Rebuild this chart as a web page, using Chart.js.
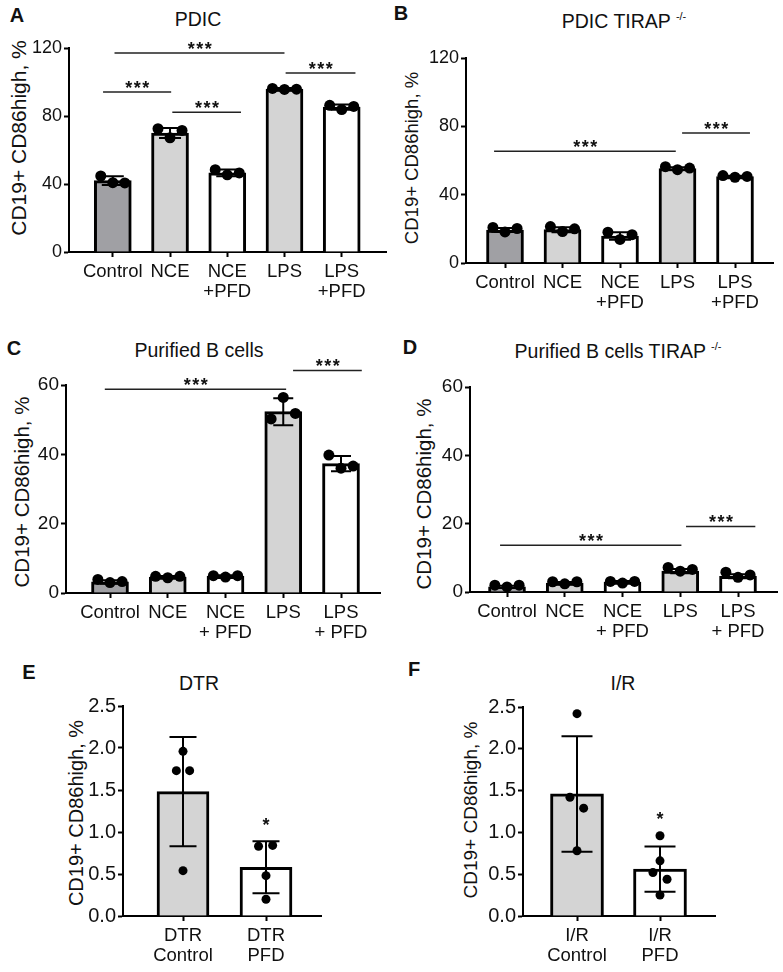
<!DOCTYPE html>
<html>
<head>
<meta charset="utf-8">
<script src="https://cdn.jsdelivr.net/npm/chart.js@4.4.1/dist/chart.umd.min.js"></script>
<style>
html, body { margin: 0; padding: 0; background: #fff; }
body { width: 783px; height: 972px; position: relative; overflow: hidden;
       font-family: "Liberation Sans", Arial, sans-serif; color: #111; }
.pane { position: absolute; }
.lbl { position: absolute; transform: translate(-50%, -50%); white-space: nowrap; line-height: 1; }
.ytitle { position: absolute; transform: translate(-50%, -50%) rotate(-90deg); white-space: nowrap; line-height: 1; }
.title { font-size: 19.5px; }
.letter { font-size: 20px; font-weight: bold; }
.sup { font-size: 11px; position: relative; top: -8px; }
</style>
</head>
<body>

<div class="lbl letter" style="left:17px;top:15px">A</div>
<div class="lbl letter" style="left:401px;top:13px">B</div>
<div class="lbl letter" style="left:14px;top:348px">C</div>
<div class="lbl letter" style="left:410px;top:347px">D</div>
<div class="lbl letter" style="left:29px;top:672px">E</div>
<div class="lbl letter" style="left:414px;top:669px">F</div>

<div class="lbl title" style="left:198px;top:20px">PDIC</div>
<div class="lbl title" style="left:624px;top:22px">PDIC TIRAP <span class="sup">-/-</span></div>
<div class="lbl title" style="left:199px;top:351px">Purified B cells</div>
<div class="lbl title" style="left:618px;top:352px">Purified B cells TIRAP <span class="sup">-/-</span></div>
<div class="lbl title" style="left:199px;top:684px">DTR</div>
<div class="lbl title" style="left:623px;top:684px">I/R</div>

<div class="ytitle" style="left:18px;top:138px;font-size:21px">CD19+ CD86high, %</div>
<div class="ytitle" style="left:412px;top:158px;font-size:18.5px">CD19+ CD86high, %</div>
<div class="ytitle" style="left:22px;top:492px;font-size:20.5px">CD19+ CD86high, %</div>
<div class="ytitle" style="left:424px;top:494px;font-size:20.5px">CD19+ CD86high, %</div>
<div class="ytitle" style="left:76px;top:813px;font-size:20px">CD19+ CD86high, %</div>
<div class="ytitle" style="left:470px;top:810px;font-size:19px">CD19+ CD86high, %</div>

<script>
const FONT = '"Liberation Sans", Arial, sans-serif';
Chart.defaults.font.family = FONT;
Chart.defaults.color = '#111';

// x labels
const labelsAB = ['Control', 'NCE', ['NCE', '+PFD'], 'LPS', ['LPS', '+PFD']];
const labelsCD = ['Control', 'NCE', ['NCE', '+ PFD'], 'LPS', ['LPS', '+ PFD']];
const labelsE = [['DTR', 'Control'], ['DTR', 'PFD']];
const labelsF = [['I/R', 'Control'], ['I/R', 'PFD']];

// A - PDIC
const meanA = [42, 70, 46.6, 95.8, 85.2];
const sdA = [2.6, 2.9, 2.0, 0.7, 1.5];
const ptsA = [[44.7, 40.8, 40.6], [72.5, 67.2, 71.5], [48.4, 45.4, 46.5], [96.2, 95.6, 95.8], [86.3, 83.8, 85.6]];
const sigA = [[0.03, 3.0, 117], [-0.17, 1.02, 94.1], [1.04, 2.24, 82.2], [3.02, 4.24, 105.3]];

// B - PDIC TIRAP -/-
const meanB = [19.3, 19.5, 15.8, 55.3, 50.6];
const sdB = [1.2, 1.5, 2.2, 0.8, 0.5];
const ptsB = [[20.8, 18.2, 20.2], [21.3, 18.4, 20.0], [18.0, 13.8, 16.6], [56.4, 54.6, 55.6], [51.2, 50.2, 50.7]];
const sigB = [[-0.19, 2.97, 65.4], [3.08, 4.26, 76.1]];

// C - Purified B cells
const meanC = [3.2, 4.6, 4.8, 52.3, 37.3];
const sdC = [0.5, 0.3, 0.3, 3.9, 2.2];
const ptsC = [[3.9, 3.0, 3.3], [4.8, 4.4, 4.8], [5.0, 4.6, 5.0], [50.2, 56.4, 51.8], [39.8, 36.0, 36.6]];
const sigC = [[-0.09, 3.05, 58.8], [3.17, 4.36, 64.2]];

// D - Purified B cells TIRAP -/-
const meanD = [1.5, 2.6, 2.9, 6.1, 4.6];
const sdD = [0.3, 0.3, 0.3, 0.6, 0.6];
const ptsD = [[2.0, 1.5, 2.0], [3.0, 2.4, 3.0], [3.1, 2.6, 3.1], [7.2, 6.1, 6.6], [5.8, 4.3, 5.0]];
const sigD = [[-0.12, 3.02, 13.7], [3.1, 4.3, 19.2]];

// E - DTR
const meanE = [1.48, 0.58];
const sdE = [0.65, 0.31];
const ptsE = [[1.96, 1.73, 1.73, 0.54], [0.83, 0.84, 0.48, 0.2]];
const starE = [1, 1.14];

// F - I/R
const meanF = [1.46, 0.56];
const sdF = [0.69, 0.27];
const ptsF = [[2.42, 1.42, 1.29, 0.78], [0.96, 0.66, 0.52, 0.44, 0.25]];
const starF = [1, 1.21];

const DARK = '#a0a0a4', LIGHT = '#d4d4d4', WHITE = '#ffffff';
const colors5 = [DARK, LIGHT, WHITE, LIGHT, WHITE];
const colors2 = [LIGHT, WHITE];
const JIT3 = [-0.21, 0, 0.21];

const panels = [
    { box: [0, 28, 392, 282], axisX: 69, top: 48, bottom: 252, right: 388, cat0: 113, step: 57.5,
      ymax: 120, ystep: 40, tickSize: 18, labels: labelsAB, mean: meanA, sd: sdA, pts: ptsA, sig: sigA,
      colors: colors5, barW: 37, cap: 11, r: 5.5 },
    { box: [392, 28, 391, 282], axisX: 466, top: 58, bottom: 263, right: 773, cat0: 505, step: 57.5,
      ymax: 120, ystep: 40, tickSize: 18, labels: labelsAB, mean: meanB, sd: sdB, pts: ptsB, sig: sigB,
      colors: colors5, barW: 37, cap: 11, r: 5.5 },
    { box: [0, 330, 392, 315], axisX: 66, top: 385, bottom: 593, right: 380, cat0: 110, step: 57.75,
      ymax: 60, ystep: 20, tickSize: 19, labels: labelsCD, mean: meanC, sd: sdC, pts: ptsC, sig: sigC,
      colors: colors5, barW: 37, cap: 10, r: 5.5 },
    { box: [392, 330, 391, 315], axisX: 470, top: 387, bottom: 592, right: 777, cat0: 507, step: 57.75,
      ymax: 60, ystep: 20, tickSize: 19, labels: labelsCD, mean: meanD, sd: sdD, pts: ptsD, sig: sigD,
      colors: colors5, barW: 37, cap: 10, r: 5.5 },
    { box: [0, 690, 392, 282], axisX: 123, top: 706, bottom: 916, right: 321, cat0: 183, step: 83,
      ymax: 2.5, ystep: 0.5, dec: true, tickSize: 20, labels: labelsE, mean: meanE, sd: sdE, pts: ptsE,
      star: starE, colors: colors2, barW: 52, cap: 13.5, r: 4.5,
      jitter: [[0, -0.08, 0.08, 0], [-0.09, 0.08, 0, 0]] },
    { box: [392, 690, 391, 282], axisX: 523, top: 707, bottom: 916, right: 715, cat0: 577, step: 83,
      ymax: 2.5, ystep: 0.5, dec: true, tickSize: 20, labels: labelsF, mean: meanF, sd: sdF, pts: ptsF,
      star: starF, colors: colors2, barW: 53, cap: 15.5, r: 4.5,
      jitter: [[0, -0.085, 0.08, 0], [0, 0, -0.085, 0.085, 0]] }
];

function drawPanel(p) {
    const [bx, by, bw, bh] = p.box;
    const wrap = document.createElement('div');
    wrap.className = 'pane';
    wrap.style.left = bx + 'px';
    wrap.style.top = by + 'px';
    wrap.style.width = bw + 'px';
    wrap.style.height = bh + 'px';
    const cv = document.createElement('canvas');
    cv.width = bw;
    cv.height = bh;
    wrap.appendChild(cv);
    document.body.appendChild(wrap);

    const barData = p.mean.map((v, i) => ({ x: i, y: v }));
    const dotData = [];
    p.pts.forEach((arr, i) => {
        const jit = p.jitter ? p.jitter[i] : JIT3;
        arr.forEach((v, j) => dotData.push({ x: i + jit[j], y: v }));
    });

    // error bars, drawn right after the bars
    const errPlugin = {
        id: 'errbars',
        afterDatasetDraw(chart, args) {
            if (args.meta.type !== 'bar') return;
            const ctx = chart.ctx;
            const xs = chart.scales.x, ys = chart.scales.y;
            ctx.save();
            ctx.strokeStyle = '#000';
            ctx.lineWidth = 2;
            p.mean.forEach((m, i) => {
                const x = xs.getPixelForValue(i);
                const y1 = ys.getPixelForValue(m + p.sd[i]);
                const y2 = ys.getPixelForValue(m - p.sd[i]);
                ctx.beginPath();
                ctx.moveTo(x, y1); ctx.lineTo(x, y2);
                ctx.moveTo(x - p.cap, y1); ctx.lineTo(x + p.cap, y1);
                ctx.moveTo(x - p.cap, y2); ctx.lineTo(x + p.cap, y2);
                ctx.stroke();
            });
            ctx.restore();
        }
    };

    // significance brackets and stars
    const sigPlugin = {
        id: 'sig',
        afterDraw(chart) {
            const ctx = chart.ctx;
            const xs = chart.scales.x, ys = chart.scales.y;
            ctx.save();
            ctx.fillStyle = '#111';
            ctx.strokeStyle = '#222';
            ctx.lineWidth = 1.5;
            ctx.font = 'bold 18px ' + FONT;
            ctx.textAlign = 'center';
            ctx.textBaseline = 'alphabetic';
            (p.sig || []).forEach(([a, b, v]) => {
                const x1 = xs.getPixelForValue(a), x2 = xs.getPixelForValue(b);
                const y = ys.getPixelForValue(v);
                ctx.beginPath();
                ctx.moveTo(x1, y); ctx.lineTo(x2, y);
                ctx.stroke();
                ctx.letterSpacing = '1.5px';
                ctx.fillText('***', (x1 + x2) / 2 + 1, y + 2);
            });
            if (p.star) {
                const x = xs.getPixelForValue(p.star[0]);
                const y = ys.getPixelForValue(p.star[1]);
                ctx.letterSpacing = '0px';
                ctx.fillText('*', x, y + 10.3);
            }
            ctx.restore();
        }
    };

    new Chart(cv, {
        type: 'bar',
        data: {
            datasets: [
                {
                    type: 'scatter',
                    data: dotData,
                    pointRadius: p.r,
                    pointBackgroundColor: '#000',
                    pointBorderWidth: 0,
                    order: 0
                },
                {
                    type: 'bar',
                    data: barData,
                    backgroundColor: p.colors,
                    borderColor: '#000',
                    borderWidth: 3,
                    barThickness: p.barW,
                    order: 1
                }
            ]
        },
        options: {
            responsive: false,
            animation: false,
            devicePixelRatio: 1,
            layout: { padding: { left: 0, top: p.top - by, right: bx + bw - p.right, bottom: 0 } },
            plugins: { legend: { display: false }, tooltip: { enabled: false } },
            scales: {
                x: {
                    type: 'linear',
                    min: (p.axisX - p.cat0) / p.step,
                    max: (p.right - p.cat0) / p.step,
                    offset: false,
                    afterBuildTicks: ax => { ax.ticks = p.labels.map((_, i) => ({ value: i })); },
                    afterFit: ax => { ax.height = by + bh - p.bottom; },
                    grid: { drawOnChartArea: false, drawTicks: true, tickLength: 5, tickWidth: 2,
                            tickColor: '#000', offset: false },
                    border: { display: true, color: '#000', width: 2 },
                    ticks: {
                        autoSkip: false, maxRotation: 0, minRotation: 0, padding: 5,
                        color: '#111', font: { size: 18.5, lineHeight: 1.08 },
                        callback: v => p.labels[v]
                    }
                },
                y: {
                    min: 0,
                    max: p.ymax,
                    afterFit: ax => { ax.width = p.axisX - bx; },
                    grid: { drawOnChartArea: false, drawTicks: true, tickLength: 5, tickWidth: 2, tickColor: '#000' },
                    border: { display: true, color: '#000', width: 2 },
                    ticks: {
                        stepSize: p.ystep, padding: 2, color: '#111', font: { size: p.tickSize },
                        callback: v => p.dec ? v.toFixed(1) : v
                    }
                }
            }
        },
        plugins: [errPlugin, sigPlugin]
    });
}

panels.forEach(drawPanel);
</script>
</body>
</html>
